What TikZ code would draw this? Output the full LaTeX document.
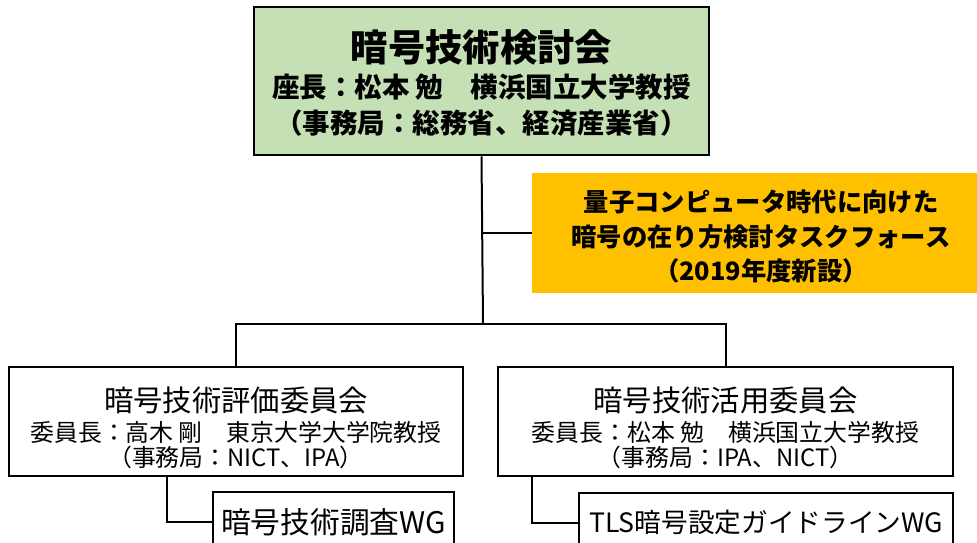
\documentclass[tikz,border=0pt]{standalone}
\usepackage{fontspec}
\setmainfont{Noto Sans CJK JP}
\definecolor{councilgreen}{HTML}{C5E0B4}
\definecolor{taskorange}{HTML}{FFC000}
\tikzset{
  orgbox/.style={draw, line width=1.5pt, fill=white, align=center, inner sep=0pt},
  taskbox/.style={fill=taskorange, align=center, inner sep=0pt},
  wgbox/.style={draw, line width=1.5pt, fill=white, inner sep=0pt},
  link/.style={line width=1.5pt}
}

\begin{document}
\begin{tikzpicture}[x=0.75pt, y=-0.75pt]
\useasboundingbox (0, 0) rectangle (977, 542);
\node [orgbox, line width=2pt, fill=councilgreen, minimum width=341.25pt, minimum height=111pt, font=\bfseries\fontsize{20.6}{27}\selectfont] (council) at (481.5, 81) {{\fontsize{28}{28}\selectfont\rule{0pt}{27.5pt}暗号技術検討会}\\座長：松本 勉　横浜国立大学教授\\（事務局：総務省、経済産業省）};
\node [taskbox, minimum width=343.5pt, minimum height=90pt, font=\bfseries\fontsize{19}{26}\selectfont] (task) at (761, 233) {\rule{0pt}{21.5pt}量子コンピュータ時代に向けた\\暗号の在り方検討タスクフォース\\（2019年度新設）};
\node [orgbox, minimum width=340.5pt, minimum height=81.75pt, font=\fontsize{17.9}{19}\selectfont] (eval) at (236, 421.5) {{\fontsize{22}{22}\selectfont\rule{0pt}{28pt}暗号技術評価委員会}\\[3pt]委員長：高木 剛　東京大学大学院教授\\（事務局：NICT、IPA）};
\node [orgbox, minimum width=341.25pt, minimum height=81.75pt, font=\fontsize{17.9}{19}\selectfont] (util) at (725.5, 421.5) {{\fontsize{22}{22}\selectfont\rule{0pt}{28pt}暗号技術活用委員会}\\[3pt]委員長：松本 勉　横浜国立大学教授\\（事務局：IPA、NICT）};
\node [wgbox, minimum width=180.75pt, minimum height=45pt, font=\fontsize{22.3}{26}\selectfont] (survey) at (333.5, 522) {暗号技術調査WG};
\node [wgbox, minimum width=280.5pt, minimum height=44.25pt, font=\fontsize{20}{24}\selectfont] (tls) at (766, 522.5) {TLS暗号設定ガイドラインWG};
\coordinate (split) at (483, 324);
\draw [link] (council.south) -- (split);
\draw [link] (council.south |- task.west) -- (task.west);
\draw [link] (eval.north) |- (split) -| (util.north);
\draw [link] (eval.south west) ++(159, 0) |- (survey.west);
\draw [link] (util.south west) ++(35, 0) |- (tls.west);
\end{tikzpicture}
\end{document}
